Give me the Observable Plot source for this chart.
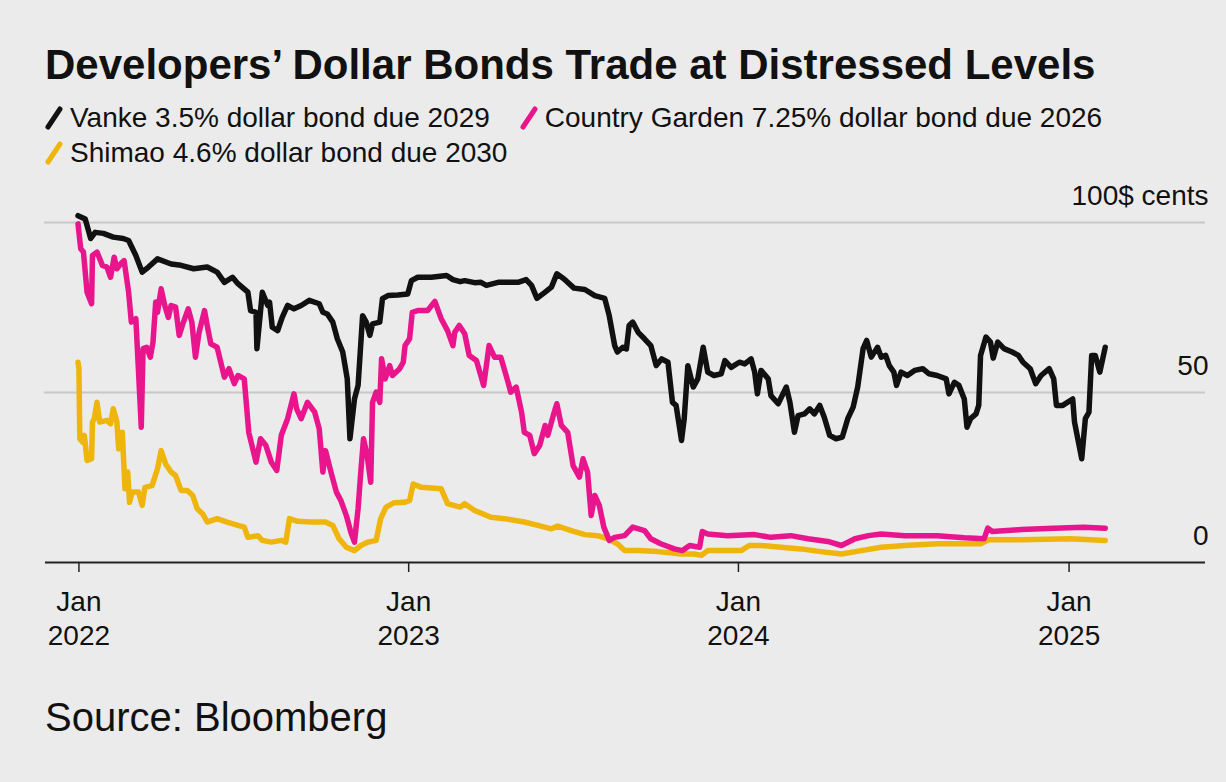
<!DOCTYPE html>
<html>
<head>
<meta charset="utf-8">
<script src="https://cdn.jsdelivr.net/npm/d3@7"></script>
<script src="https://cdn.jsdelivr.net/npm/@observablehq/plot@0.6"></script>
<style>
  html, body { margin: 0; padding: 0; }
  body { width: 1226px; height: 782px; background: #ebebeb; position: relative; overflow: hidden;
         font-family: "Liberation Sans", Arial, sans-serif; color: #111; }
  #title { position: absolute; left: 45px; top: 44px; font-weight: bold; font-size: 42px; line-height: 42px; white-space: nowrap; }
  .lrow { position: absolute; left: 45px; font-size: 28px; line-height: 35px; white-space: nowrap; display: flex; align-items: center; }
  .item { display: inline-flex; align-items: center; }
  .item svg { margin-right: 7px; }
  #chart { position: absolute; left: 0; top: 170px; }
  #source { position: absolute; left: 45px; top: 697px; font-size: 40px; line-height: 40px; }
</style>
</head>
<body>
<div id="title">Developers’ Dollar Bonds Trade at Distressed Levels</div>
<div class="lrow" id="row1" style="top:100px"></div>
<div class="lrow" id="row2" style="top:135px"></div>
<div id="chart"></div>
<div id="source">Source: Bloomberg</div>
<script>
const seriesNames = [
  "Vanke 3.5% dollar bond due 2029",
  "Country Garden 7.25% dollar bond due 2026",
  "Shimao 4.6% dollar bond due 2030"
];
const seriesColors = ["#111111", "#e8158c", "#efb50c"];

const xTickDates = ["2022-01-01", "2023-01-01", "2024-01-01", "2025-01-01"];
const xTickLabels = ["Jan\n2022", "Jan\n2023", "Jan\n2024", "Jan\n2025"];
const yTicks = [0, 50, 100];
const yTickLabels = ["0", "50", "100$ cents"];

const vanke = [
["2021-12-31",102],["2022-01-08",101],["2022-01-14",95.3],["2022-01-19",97.1],["2022-01-28",96.8],
["2022-02-08",95.7],["2022-02-19",95.3],["2022-02-25",94.7],["2022-03-05",90.3],["2022-03-12",85.4],
["2022-03-19",86.9],["2022-03-29",89.3],["2022-04-13",87.8],["2022-04-24",87.4],["2022-05-08",86.4],
["2022-05-23",86.9],["2022-06-03",85.4],["2022-06-11",82.4],["2022-06-20",83.9],["2022-06-26",82],
["2022-07-07",79.5],["2022-07-10",74.1],["2022-07-16",73.6],["2022-07-17",62.9],["2022-07-23",79.5],
["2022-07-29",75.6],["2022-07-31",76.6],["2022-08-03",69.2],["2022-08-09",68.2],["2022-08-14",72.1],
["2022-08-20",75.6],["2022-08-27",74.6],["2022-09-04",75.6],["2022-09-13",77.1],["2022-09-24",76.1],
["2022-09-28",73.6],["2022-10-03",73.1],["2022-10-09",70.7],["2022-10-14",65.8],["2022-10-20",61.9],
["2022-10-25",54],["2022-10-28",36.4],["2022-11-02",48.1],["2022-11-06",52.1],["2022-11-11",72.6],
["2022-11-15",70.7],["2022-11-19",66.8],["2022-11-22",70.2],["2022-11-30",70.7],["2022-12-03",77.6],
["2022-12-09",78.5],["2022-12-20",78.7],["2022-12-31",79],["2023-01-04",82.9],["2023-01-11",83.9],
["2023-01-26",83.9],["2023-02-12",84.4],["2023-02-19",83.2],["2023-02-27",82.6],["2023-03-04",82.9],
["2023-03-15",82.3],["2023-03-22",82.4],["2023-03-28",81.5],["2023-04-10",82.4],["2023-05-02",82.4],
["2023-05-11",83.2],["2023-05-17",81.5],["2023-05-23",77.7],["2023-05-31",79.3],["2023-06-08",81],
["2023-06-14",84.9],["2023-06-22",83.4],["2023-07-03",80.7],["2023-07-15",80.3],["2023-07-26",78.5],
["2023-08-06",77.7],["2023-08-11",72.6],["2023-08-17",63.8],["2023-08-20",61.9],["2023-08-26",63.3],
["2023-08-30",62.8],["2023-09-02",69.7],["2023-09-06",70.7],["2023-09-12",67.7],["2023-09-19",65.8],
["2023-09-26",63.8],["2023-10-02",57.9],["2023-10-08",59.9],["2023-10-15",58.9],["2023-10-20",47.1],
["2023-10-24",46.2],["2023-10-30",35.9],["2023-11-02",42.3],["2023-11-06",57.9],["2023-11-12",51.6],
["2023-11-17",54],["2023-11-23",63.3],["2023-11-28",56],["2023-12-05",55],["2023-12-13",55.5],
["2023-12-17",59.4],["2023-12-24",57.4],["2024-01-02",58.9],["2024-01-08",58.4],["2024-01-15",59.9],
["2024-01-19",56],["2024-01-22",49.6],["2024-01-26",56.5],["2024-02-03",54],["2024-02-06",49.1],
["2024-02-14",46.7],["2024-02-23",51.6],["2024-02-27",47.1],["2024-03-03",38.3],["2024-03-07",43.2],
["2024-03-14",43.7],["2024-03-20",45.2],["2024-03-25",43.7],["2024-03-31",46.2],["2024-04-05",42.7],
["2024-04-11",37.4],["2024-04-18",36.4],["2024-04-25",36.9],["2024-05-01",42.3],["2024-05-07",45.7],
["2024-05-12",51.6],["2024-05-18",62.9],["2024-05-22",65.3],["2024-05-27",60.4],["2024-06-02",62.9],
["2024-06-03",63.3],["2024-06-07",60.4],["2024-06-12",60.9],["2024-06-16",57.9],["2024-06-21",56],
["2024-06-24",52.1],["2024-06-29",56],["2024-07-06",55],["2024-07-14",56.5],["2024-07-23",57],
["2024-07-30",55.5],["2024-08-08",55],["2024-08-18",54],["2024-08-21",49.6],["2024-08-27",53],
["2024-09-01",52.1],["2024-09-07",48.1],["2024-09-10",39.8],["2024-09-14",42.3],["2024-09-20",43.7],
["2024-09-23",46.2],["2024-09-25",60.9],["2024-10-01",66.3],["2024-10-06",64.8],["2024-10-09",60.1],
["2024-10-14",64.8],["2024-10-21",62.9],["2024-10-30",61.9],["2024-11-06",60.9],["2024-11-11",58.9],
["2024-11-19",57],["2024-11-25",52.6],["2024-12-01",55],["2024-12-10",57],["2024-12-15",54],
["2024-12-18",46.2],["2024-12-25",46.2],["2025-01-05",48.1],["2025-01-07",41.3],["2025-01-15",30.5],
["2025-01-19",42.3],["2025-01-23",44.2],["2025-01-26",60.9],["2025-01-30",60.9],["2025-02-04",56],
["2025-02-10",63.3]
];

const countryGarden = [
["2021-12-31",99.6],["2022-01-03",92.3],["2022-01-06",91.3],["2022-01-10",79.5],["2022-01-15",76.1],
["2022-01-16",90.3],["2022-01-21",91.3],["2022-01-27",87.4],["2022-02-01",86.9],["2022-02-05",83.9],
["2022-02-09",89.8],["2022-02-12",86.4],["2022-02-16",87.8],["2022-02-20",88.8],["2022-02-25",79.5],
["2022-02-28",70.7],["2022-03-05",71.7],["2022-03-08",56],["2022-03-11",39.8],["2022-03-13",62.9],
["2022-03-17",63.3],["2022-03-21",60.4],["2022-03-24",64.8],["2022-03-27",76.6],["2022-03-29",73.6],
["2022-04-02",80.5],["2022-04-06",75.6],["2022-04-10",72.1],["2022-04-13",75.6],["2022-04-18",75.1],
["2022-04-22",66.8],["2022-04-26",70.2],["2022-05-02",74.6],["2022-05-06",70.7],["2022-05-10",60.4],
["2022-05-14",67.7],["2022-05-20",74.1],["2022-05-23",69.7],["2022-05-27",64.3],["2022-06-03",63.3],
["2022-06-11",54.5],["2022-06-16",57],["2022-06-22",52.6],["2022-06-26",55],["2022-07-03",54],
["2022-07-08",38.3],["2022-07-16",29.5],["2022-07-21",36.4],["2022-07-27",34.4],["2022-08-02",29.5],
["2022-08-08",27.1],["2022-08-13",37.4],["2022-08-20",42.3],["2022-08-27",49.6],["2022-08-30",45.2],
["2022-09-04",42.3],["2022-09-11",47.1],["2022-09-19",44.2],["2022-09-24",39.3],["2022-09-28",26.6],
["2022-10-01",32.9],["2022-10-07",26.6],["2022-10-13",20.7],["2022-10-18",18.2],["2022-10-24",13.8],
["2022-10-29",8.9],["2022-11-02",6],["2022-11-06",15.8],["2022-11-09",26.6],["2022-11-12",36.4],
["2022-11-16",31.5],["2022-11-20",23.6],["2022-11-22",47.1],["2022-11-26",50.1],["2022-11-30",47.1],
["2022-12-02",59.9],["2022-12-06",54],["2022-12-11",57.9],["2022-12-14",55],["2022-12-22",57],
["2022-12-26",58.9],["2022-12-28",63.8],["2023-01-02",65.8],["2023-01-05",73.6],["2023-01-11",74.1],
["2023-01-22",74.1],["2023-01-30",76.8],["2023-02-06",71.7],["2023-02-13",68.2],["2023-02-19",63.8],
["2023-02-21",67.7],["2023-02-26",69.7],["2023-03-04",67.3],["2023-03-09",60.9],["2023-03-17",59.4],
["2023-03-25",52.1],["2023-03-31",63.8],["2023-04-06",60.4],["2023-04-13",60.4],["2023-04-21",53],
["2023-04-24",50.1],["2023-04-30",51.6],["2023-05-06",44.2],["2023-05-09",38.3],["2023-05-15",37.4],
["2023-05-20",32],["2023-05-26",34.4],["2023-06-01",40.3],["2023-06-04",37.4],["2023-06-10",43.2],
["2023-06-14",46.7],["2023-06-19",40.3],["2023-06-26",38.3],["2023-07-02",28.5],["2023-07-09",25.1],
["2023-07-13",30.5],["2023-07-18",26.6],["2023-07-22",13.8],["2023-07-26",19.7],["2023-07-31",16.8],
["2023-08-05",10.4],["2023-08-11",6.5],["2023-08-17",7.4],["2023-08-28",7.9],["2023-09-06",10.4],
["2023-09-19",9.4],["2023-09-26",7],["2023-10-07",5.5],["2023-10-22",4],["2023-10-31",3.5],
["2023-11-08",5],["2023-11-19",4.5],["2023-11-22",9.1],["2023-11-28",8.4],["2023-12-20",7.9],
["2024-01-19",8.2],["2024-02-06",7.4],["2024-02-28",7.9],["2024-03-18",7],["2024-04-09",6.2],
["2024-04-24",5],["2024-05-09",7],["2024-05-24",7.9],["2024-06-07",8.4],["2024-07-03",7.9],
["2024-08-08",7.9],["2024-09-07",7.3],["2024-09-29",7],["2024-10-03",10.1],["2024-10-08",9.1],
["2024-11-09",9.7],["2024-12-15",10.1],["2025-01-17",10.4],["2025-02-10",10.1]
];

const shimao = [
["2021-12-31",58.9],["2022-01-01",57],["2022-01-02",36.4],["2022-01-05",35.4],["2022-01-07",37.4],
["2022-01-10",30],["2022-01-15",30.5],["2022-01-16",41.3],["2022-01-18",42.3],["2022-01-21",47.1],
["2022-01-24",41.3],["2022-02-01",41.8],["2022-02-05",40.8],["2022-02-08",45.2],["2022-02-12",41.3],
["2022-02-14",33.4],["2022-02-18",38.3],["2022-02-21",21.7],["2022-02-24",26.6],["2022-02-26",17.7],
["2022-03-01",20.7],["2022-03-08",20.7],["2022-03-12",16.8],["2022-03-15",22.1],["2022-03-23",22.6],
["2022-03-29",27.6],["2022-04-02",32.9],["2022-04-07",29],["2022-04-13",26.6],["2022-04-18",25.6],
["2022-04-24",21.2],["2022-05-01",21.2],["2022-05-07",19.7],["2022-05-12",15.8],["2022-05-18",14.3],
["2022-05-23",11.9],["2022-06-03",12.9],["2022-06-14",11.9],["2022-06-26",10.9],["2022-07-03",10.4],
["2022-07-07",7.4],["2022-07-18",7.9],["2022-07-23",6.5],["2022-08-02",6],["2022-08-13",6.5],
["2022-08-18",6],["2022-08-22",12.9],["2022-08-31",12.1],["2022-09-15",11.9],["2022-10-01",11.9],
["2022-10-09",10.9],["2022-10-16",7],["2022-10-24",4.5],["2022-11-02",3.5],["2022-11-09",5],
["2022-11-17",6],["2022-11-26",6.5],["2022-12-01",12.9],["2022-12-07",16.3],["2022-12-16",17.6],
["2022-12-27",17.7],["2023-01-02",18.2],["2023-01-06",23.1],["2023-01-15",22.1],["2023-02-06",21.7],
["2023-02-13",17.3],["2023-02-27",16.3],["2023-03-04",17.3],["2023-03-15",15.3],["2023-04-02",13.3],
["2023-04-17",12.9],["2023-05-09",11.9],["2023-05-24",10.9],["2023-06-08",9.9],["2023-06-15",10.7],
["2023-06-30",9.4],["2023-07-15",8.2],["2023-07-29",7.9],["2023-08-09",7],["2023-08-20",5.5],
["2023-08-28",3.5],["2023-09-12",3.5],["2023-10-04",3.2],["2023-10-30",2.5],["2023-11-13",2.5],
["2023-11-21",2.1],["2023-11-28",3.5],["2023-12-13",3.5],["2024-01-04",3.5],["2024-01-13",5],
["2024-01-26",5],["2024-02-17",4.5],["2024-03-10",4],["2024-04-01",3.2],["2024-04-24",2.5],
["2024-05-16",3.5],["2024-06-07",4.5],["2024-07-03",5],["2024-08-08",5.5],["2024-09-25",5.5],
["2024-10-04",6.7],["2024-11-09",6.7],["2025-01-03",7],["2025-02-10",6.5]
];

const series = [vanke, countryGarden, shimao];

// Legend
function swatch(color) {
  return `<svg width="18" height="24" viewBox="0 0 18 24"><line x1="3" y1="21" x2="15" y2="3" stroke="${color}" stroke-width="5" stroke-linecap="round"/></svg>`;
}
const row1 = document.getElementById("row1");
const row2 = document.getElementById("row2");
row1.innerHTML =
  `<span class="item">${swatch(seriesColors[0])}<span>${seriesNames[0]}</span></span>` +
  `<span class="item" style="margin-left:30px">${swatch(seriesColors[1])}<span>${seriesNames[1]}</span></span>`;
row2.innerHTML = `<span class="item">${swatch(seriesColors[2])}<span>${seriesNames[2]}</span></span>`;

const parse = s => new Date(s + "T00:00:00Z");
const labelByTime = new Map(xTickDates.map((d, i) => [parse(d).getTime(), xTickLabels[i]]));
const yLabelByValue = new Map(yTicks.map((v, i) => [v, yTickLabels[i]]));

const lineMarks = [2, 1, 0].map(i =>
  Plot.line(series[i], {
    x: d => parse(d[0]), y: d => d[1],
    stroke: seriesColors[i], strokeWidth: 5.5,
    strokeLinejoin: "round", strokeLinecap: "round"
  })
);

const chart = Plot.plot({
  width: 1226,
  height: 490,
  marginLeft: 45,
  marginRight: 21,
  marginTop: 52,
  marginBottom: 98,
  style: { background: "transparent", fontFamily: "'Liberation Sans', Arial, sans-serif", fontSize: "28px", color: "#111", overflow: "visible" },
  x: { type: "utc", domain: [parse("2021-11-25"), parse("2025-06-01")] },
  y: { domain: [0, 100] },
  marks: [
    Plot.ruleY([50, 100], { stroke: "#c8c8c8", strokeWidth: 2.2, x1: parse("2021-11-24"), x2: parse("2025-06-01") }),
    ...lineMarks,
    Plot.ruleY([0], { stroke: "#222", strokeWidth: 2.2 }),
    Plot.axisX(xTickDates.map(parse), {
      tickFormat: d => labelByTime.get(d.getTime()),
      tickSize: 10, tickPadding: 15, fontSize: 28, lineHeight: 1.2,
      stroke: "#222", strokeWidth: 1.5
    }),
    Plot.axisY(yTicks, {
      anchor: "right", tickSize: 0, tickPadding: 3, textAnchor: "end",
      dy: -26, fontSize: 28,
      tickFormat: v => yLabelByValue.get(v)
    })
  ]
});
document.getElementById("chart").appendChild(chart);
</script>
</body>
</html>
